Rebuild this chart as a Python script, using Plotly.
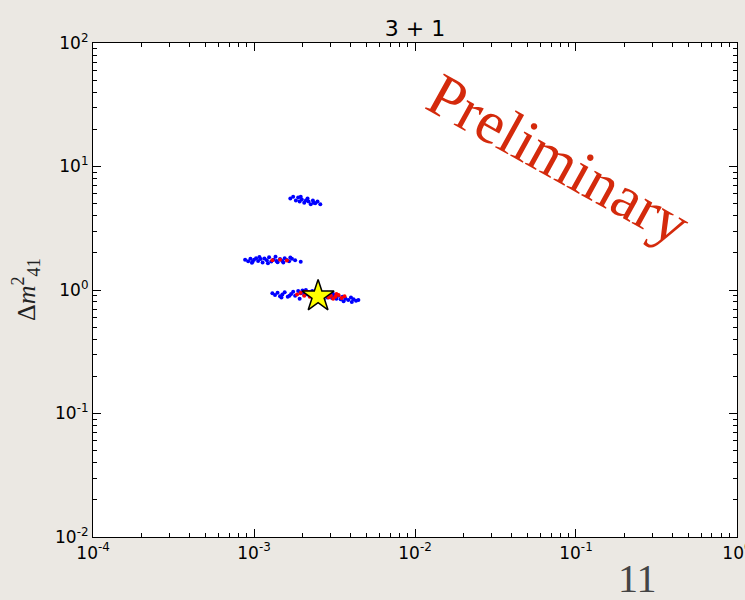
import plotly.graph_objects as go

# ---- data ----
blue_x = [1.30,1.35,1.40,1.45,1.50,1.55,1.62,1.70,1.75,1.80,1.88,1.95,2.00,2.05,2.10,2.15,2.20,2.30,2.40,2.50,2.60,2.75,2.85,2.95,3.05,3.15,3.25,3.35,3.45,3.55,3.70,3.85,4.00,4.15,4.30,4.45,1.48,1.66,1.92,2.25,2.70,3.10,3.60,4.05,2.05,2.35,
          0.88,0.92,0.95,0.98,1.00,1.03,1.06,1.10,1.13,1.16,1.20,1.24,1.28,1.32,1.36,1.40,1.45,1.50,1.55,1.60,1.65,1.72,1.80,1.95,0.97,1.08,1.22,1.38,1.52,1.68,
          1.68,1.75,1.82,1.88,1.92,1.98,2.05,2.10,2.18,2.25,2.32,2.40,2.48,2.58,1.95,2.15,2.35]
blue_y = [0.94,0.91,0.95,0.89,0.92,0.96,0.88,0.93,0.97,0.90,0.98,0.94,0.99,0.95,1.00,0.92,0.96,0.98,0.95,0.94,0.91,0.89,0.87,0.91,0.86,0.89,0.85,0.90,0.84,0.88,0.85,0.83,0.87,0.84,0.82,0.83,0.87,0.90,0.85,0.89,0.84,0.93,0.81,0.80,0.91,0.86,
          1.76,1.71,1.79,1.69,1.76,1.81,1.72,1.78,1.67,1.80,1.74,1.84,1.70,1.76,1.86,1.68,1.78,1.72,1.81,1.75,1.71,1.79,1.74,1.69,1.66,1.85,1.65,1.72,1.67,1.83,
          5.5,5.7,5.3,5.6,5.2,5.4,5.1,5.3,5.2,4.95,5.3,5.05,5.2,4.95,5.7,5.5,5.1]
red_x = [1.85,1.95,2.05,2.15,2.22,2.30,2.38,2.45,2.55,2.65,2.78,2.90,3.00,3.10,3.20,3.35,3.50,3.65,2.10,2.40,2.85,3.25,
         1.30,1.45,1.60]
red_y = [0.92,0.95,0.90,0.96,0.88,0.93,0.86,0.91,0.94,0.89,0.92,0.87,0.90,0.85,0.88,0.91,0.86,0.89,0.97,0.84,0.95,0.93,
         1.74,1.76,1.73]
best_x = [2.5]
best_y = [0.89]
x_scale = 1e-3
tick_x_vals = [1e-4, 1e-3, 1e-2, 1e-1, 1]
tick_x_text = ["10<sup>-4</sup>", "10<sup>-3</sup>", "10<sup>-2</sup>", "10<sup>-1</sup>", "10<sup>0</sup>"]
tick_y_vals = [1e-2, 1e-1, 1, 10, 100]
tick_y_text = ["10<sup>-2</sup>", "10<sup>-1</sup>", "10<sup>0</sup>", "10<sup>1</sup>", "10<sup>2</sup>"]
minor_digits = [2, 3, 4, 5, 6, 7, 8, 9]
minor_x = [d * 10.0 ** e for e in range(-4, 0) for d in minor_digits]
minor_y = [d * 10.0 ** e for e in range(-2, 2) for d in minor_digits]

fig = go.Figure()
fig.add_trace(go.Scatter(x=[v * x_scale for v in blue_x], y=blue_y, mode="markers",
                         marker=dict(color="blue", size=4, line=dict(width=0)), showlegend=False))
fig.add_trace(go.Scatter(x=[v * x_scale for v in red_x], y=red_y, mode="markers",
                         marker=dict(color="red", size=4, line=dict(width=0)), showlegend=False))
fig.add_trace(go.Scatter(x=[v * x_scale for v in best_x], y=best_y, mode="markers",
                         marker=dict(symbol="star", color="yellow", size=24, line=dict(color="black", width=1.5)),
                         showlegend=False))

axis_common = dict(type="log", showgrid=False, zeroline=False, showline=True, linecolor="black", linewidth=1.2,
                   mirror="allticks", ticks="inside", ticklen=8, tickwidth=1, tickcolor="black",
                   ticklabeloverflow="allow", automargin=False,
                   tickfont=dict(family="DejaVu Sans", size=17, color="black"))
fig.update_xaxes(range=[-4.0005, 0.0005], tickvals=tick_x_vals, ticktext=tick_x_text,
                 minor=dict(tickvals=minor_x, ticks="inside", ticklen=4, tickcolor="black", tickwidth=1, showgrid=False),
                 **axis_common)
fig.update_yaxes(range=[-2.0005, 2.0005], tickvals=tick_y_vals, ticktext=tick_y_text,
                 minor=dict(tickvals=minor_y, ticks="inside", ticklen=4, tickcolor="black", tickwidth=1, showgrid=False),
                 **axis_common)

fig.update_layout(
    width=745, height=600,
    margin=dict(l=93, r=8, t=43, b=63, autoexpand=False),
    paper_bgcolor="#ebe8e3", plot_bgcolor="white",
    title=dict(text="3 + 1", x=(93 + 737) / 2 / 745, xanchor="center", y=1 - 28 / 600, yanchor="middle",
               font=dict(family="DejaVu Sans", size=22, color="black")),
    annotations=[
        dict(text="Preliminary", xref="paper", yref="paper", x=0.724, y=0.765, showarrow=False,
             textangle=29, font=dict(family="Liberation Serif", size=61, color="#d42a0c"),
             xanchor="center", yanchor="middle"),
        dict(text="Δ<i>m</i><sup>2</sup><sub>41</sub>", xref="paper", yref="paper", x=-0.104, y=0.5,
             showarrow=False, textangle=-90, font=dict(family="Liberation Serif", size=26, color="#222"),
             xanchor="center", yanchor="middle"),
        dict(text="sin<sup>2</sup> 2<i>θ</i><sub>μe</sub>", xref="paper", yref="paper", x=0.5, y=-0.152,
             showarrow=False, font=dict(family="Liberation Serif", size=22, color="#222"),
             xanchor="center", yanchor="top"),
        dict(text="11", xref="paper", yref="paper", x=(637 - 93) / 644, y=(537 - 578) / 494,
             showarrow=False, font=dict(family="Liberation Serif", size=40, color="#444"),
             xanchor="center", yanchor="middle"),
    ],
)

fig.write_html("out.html")
